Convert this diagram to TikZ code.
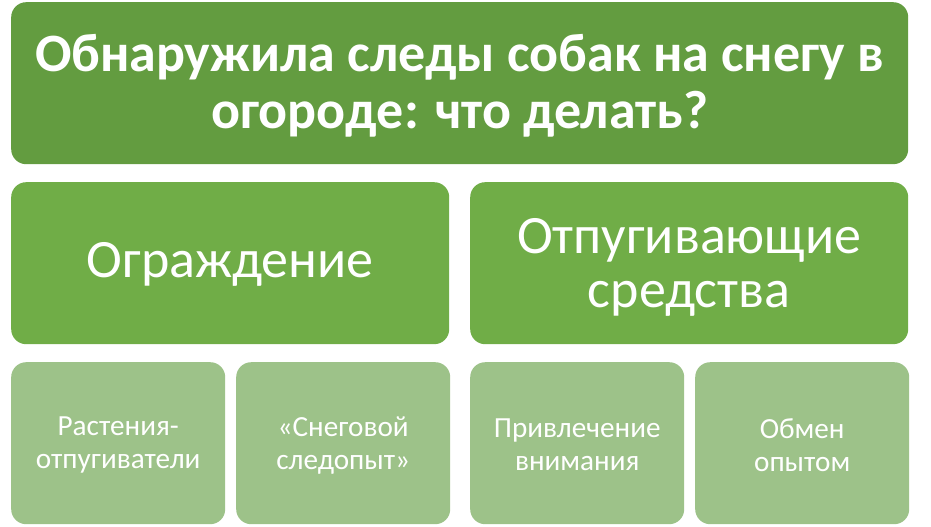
\documentclass[tikz,border=0pt]{standalone}
\usepackage{fontspec}
\setmainfont{Carlito}
\definecolor{topg}{RGB}{99,156,64}
\definecolor{midg}{RGB}{112,173,71}
\definecolor{lowg}{RGB}{157,194,137}
\tikzset{
  box/.style={draw=none, rounded corners=15pt, inner sep=0pt, anchor=north west, minimum height=162pt},
  topbox/.style={box, fill=topg, minimum width=897pt},
  midbox/.style={box, fill=midg, minimum width=438pt},
  lowbox/.style={box, fill=lowg, minimum width=214pt},
  txt/.style={inner sep=0pt, align=center, text=white},
  toptxt/.style={txt, font=\bfseries\fontsize{54}{57}\selectfont},
  midtxt/.style={txt, font=\fontsize{54}{54}\selectfont},
  lowtxt/.style={txt, font=\fontsize{29.2}{33}\selectfont}
}
\begin{document}
\begin{tikzpicture}[x=1pt,y=-1pt]
\useasboundingbox (0,0) rectangle (931,527);
\node[topbox] (title) at (11,2) {};
\node[midbox] (fence) at (11,182) {};
\node[midbox] (repel) at (470,182) {};
\node[lowbox] (plants) at (11,362) {};
\node[lowbox] (snow) at (236,362) {};
\node[lowbox] (attn) at (470,362) {};
\node[lowbox] (share) at (695,362) {};
\node[toptxt, yshift=-3pt] (titleT) at (title.center) {Обнаружила следы собак на снегу в\\огороде: что делать?};
\node[midtxt, yshift=-1pt] (fenceT) at (fence.center) {Ограждение};
\node[midtxt, yshift=-4pt] (repelT) at (repel.center) {Отпугивающие\\средства};
\node[lowtxt, yshift=-2pt] (plantsT) at (plants.center) {Растения-\\отпугиватели};
\node[lowtxt, yshift=-2pt] (snowT) at (snow.center) {«Снеговой\\следопыт»};
\node[lowtxt, yshift=-2pt] (attnT) at (attn.center) {Привлечение\\внимания};
\node[lowtxt, yshift=-2pt] (shareT) at (share.center) {Обмен\\опытом};
\end{tikzpicture}
\end{document}
